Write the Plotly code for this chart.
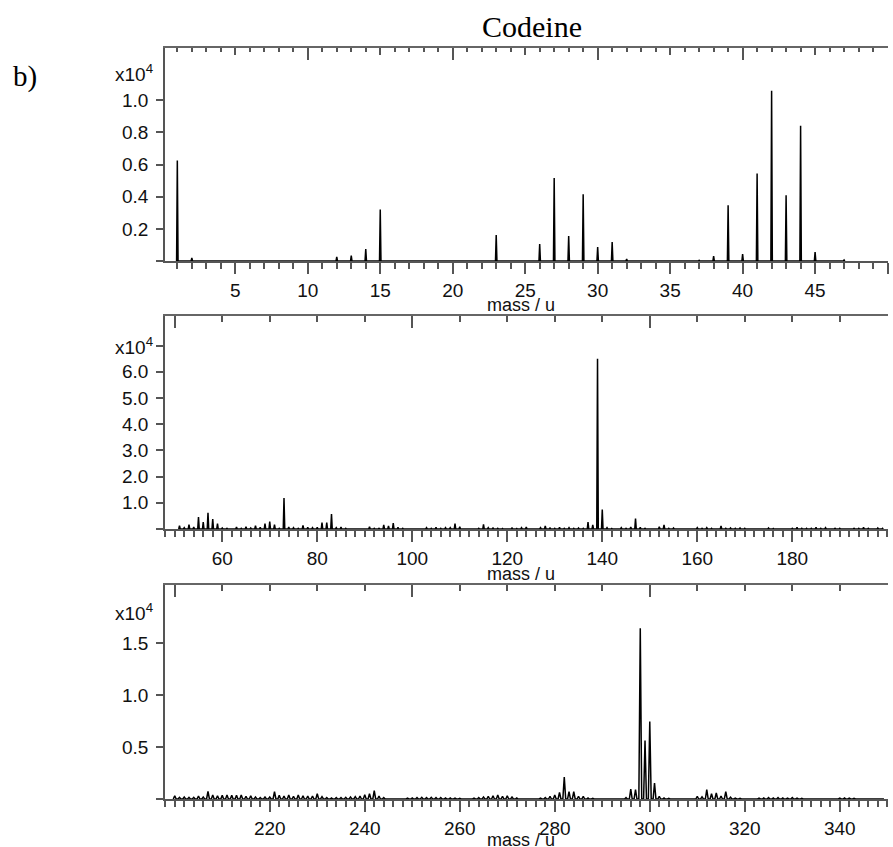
import plotly.graph_objects as go

W, H = 893, 847

# ---- spectrum data (intensity in counts) ----
top_mass = [1, 2, 12, 13, 14, 15, 23, 25, 26, 27, 28, 29, 30, 31, 32,
            37, 38, 39, 40, 41, 42, 43, 44, 45, 47]
top_counts = [6250, 190, 250, 330, 740, 3200, 1610, 30, 1050, 5160, 1550, 4150, 870, 1180, 120,
              40, 310, 3470, 430, 5450, 10590, 4090, 8420, 560, 60]

mid_mass = list(range(51, 200))
mid_counts = [
    1270, 500, 1650, 760, 4580, 2670, 6230, 3820, 2040, 380,      # 51-60
    250, 200, 760, 300, 890, 380, 1270, 640, 2040, 2800,          # 61-70
    1650, 300, 11830, 760, 500, 250, 1400, 640, 500, 640,         # 71-80
    2420, 2420, 5730, 500, 760, 250, 200, 200, 250, 200,          # 81-90
    890, 250, 300, 1530, 1150, 2290, 640, 250, 200, 200,          # 91-100
    200, 250, 500, 250, 640, 250, 500, 500, 2040, 890,            # 101-110
    250, 200, 250, 300, 1780, 500, 380, 300, 200, 250,            # 111-120
    380, 200, 500, 760, 250, 200, 500, 1150, 380, 250,            # 121-130
    640, 250, 500, 250, 380, 250, 2670, 1530, 65000, 7400,        # 131-140
    500, 200, 250, 500, 250, 760, 3940, 640, 300, 250,            # 141-150
    250, 890, 1530, 300, 380, 250, 200, 250, 200, 500,            # 151-160
    250, 500, 250, 250, 1150, 300, 380, 250, 380, 250,            # 161-170
    250, 200, 250, 200, 380, 200, 250, 200, 250, 300,             # 171-180
    640, 300, 250, 300, 640, 300, 500, 250, 300, 250,             # 181-190
    250, 250, 300, 250, 640, 300, 250, 380, 250,                  # 191-199
]

low_mass = list(range(200, 350))
low_counts = [
    320, 160, 190, 160, 160, 290, 190, 740, 380, 320,             # 200-209
    350, 380, 350, 350, 380, 260, 320, 190, 130, 190,             # 210-219
    190, 700, 350, 290, 380, 260, 380, 320, 290, 290,             # 220-229
    510, 230, 130, 100, 130, 130, 160, 190, 220, 290,             # 230-239
    420, 510, 800, 290, 130, 60, 60, 60, 60, 80,                  # 240-249
    100, 130, 160, 130, 160, 130, 130, 100, 100, 80,              # 250-259
    60, 60, 60, 80, 130, 190, 260, 320, 380, 260,                 # 260-269
    320, 190, 100, 60, 60, 60, 60, 80, 130, 260,                  # 270-279
    380, 640, 2120, 700, 700, 260, 260, 100, 60, 60,              # 280-289
    60, 60, 60, 60, 60, 130, 960, 900, 16440, 5640,               # 290-299
    7460, 1540, 260, 100, 60, 60, 60, 60, 60, 60,                 # 300-309
    260, 200, 900, 510, 580, 290, 700, 170, 80, 60,               # 310-319
    60, 60, 60, 80, 100, 130, 100, 130, 100, 80,                  # 320-329
    130, 80, 60, 60, 60, 60, 60, 60, 60, 60,                      # 330-339
    80, 100, 80, 60, 60, 60, 60, 60, 60, 60,                      # 340-349
]

# axis tick labels
top_xticks = list(range(5, 51, 5))
top_xlabels = [str(v) for v in range(5, 50, 5)] + [""]
mid_xticks = list(range(50, 201, 10))
mid_xlabels = [str(v) if v % 20 == 0 and 60 <= v <= 180 else "" for v in mid_xticks]
low_xticks = list(range(200, 351, 10))
low_xlabels = [str(v) if v % 20 == 0 and 220 <= v <= 340 else "" for v in low_xticks]

top_yticks = [0, 2000, 4000, 6000, 8000, 10000]
top_ylabels = ["", "0.2", "0.4", "0.6", "0.8", "1.0"]
mid_yticks = [0, 10000, 20000, 30000, 40000, 50000, 60000, 70000]
mid_ylabels = ["", "1.0", "2.0", "3.0", "4.0", "5.0", "6.0", ""]
low_yticks = [0, 5000, 10000, 15000]
low_ylabels = ["", "0.5", "1.0", "1.5"]


def profile(masses, counts, hw):
    """Turn peak list into a narrow-peaked spectrum polyline."""
    xs, ys = [], []
    for m, c in sorted(zip(masses, counts)):
        xs += [m - hw, m, m + hw]
        ys += [0, c, 0]
    return xs, ys


def px_y(p):
    return 1 - p / H


def px_x(p):
    return p / W


AX = "#555555"
SANS = "Liberation Sans, Arial, sans-serif"
SERIF = "Liberation Serif, Times New Roman, serif"
TICKFONT = dict(family=SANS, size=19, color="#111111")

XD = [px_x(165), px_x(888)]
panels = [
    # x range, y range, y domain in px (bottom, top)
    dict(xr=[0.15, 50.03], yr=[0, 13250], yd=(261, 48)),
    dict(xr=[47.95, 200.15], yr=[0, 81300], yd=(529, 316)),
    dict(xr=[197.95, 350.15], yr=[0, 20600], yd=(799, 585)),
]

fig = go.Figure()

series = [
    profile(top_mass, top_counts, 0.05),
    profile(mid_mass, mid_counts, 0.16),
    profile(low_mass, low_counts, 0.3),
]
for i, (xs, ys) in enumerate(series):
    n = "" if i == 0 else str(i + 1)
    fig.add_trace(go.Scatter(x=xs, y=ys, mode="lines",
                             line=dict(color="black", width=1.5),
                             xaxis="x" + n, yaxis="y" + n,
                             hoverinfo="skip", showlegend=False))

# empty traces so the top-frame axes get drawn
for ax, ya in [("x4", "y"), ("x5", "y2"), ("x6", "y3"), ("x7", "y")]:
    fig.add_trace(go.Scatter(x=[], y=[], xaxis=ax, yaxis=ya, showlegend=False))


def bottom_axis(xr, tv, tt, minor_vals, anchor):
    return dict(domain=XD, range=xr, anchor=anchor, showline=True, linecolor=AX, linewidth=1.6,
                ticks="outside", ticklen=11, tickwidth=1.6, tickcolor=AX,
                tickmode="array", tickvals=tv, ticktext=tt, tickfont=TICKFONT,
                ticklabelstandoff=0,
                minor=dict(tickmode="array", tickvals=minor_vals, ticks="outside",
                           ticklen=6, tickwidth=1.5, tickcolor=AX, showgrid=False),
                showgrid=False, zeroline=False)


def top_axis(xr, base, anchor, dtick, ticklen, minor_dtick=None, minor_len=0, line=True):
    d = dict(domain=XD, range=xr, anchor=anchor, overlaying=base, side="top",
             showline=line, linecolor="#666666", linewidth=1.8, mirror=False,
             ticks="inside", tickmode="linear", tick0=0, dtick=dtick, ticklen=ticklen,
             tickwidth=1.6, tickcolor=AX, showticklabels=False,
             showgrid=False, zeroline=False)
    if minor_dtick:
        d["minor"] = dict(tickmode="linear", tick0=0, dtick=minor_dtick, ticks="inside",
                          ticklen=minor_len, tickwidth=1.5, tickcolor=AX, showgrid=False)
    return d


def left_axis(yr, yd, tv, tt, anchor):
    return dict(domain=[px_y(yd[0]), px_y(yd[1])], range=yr, anchor=anchor,
                showline=True, linecolor=AX, linewidth=1.6,
                ticks="outside", ticklen=7, tickwidth=1.6, tickcolor=AX,
                tickmode="array", tickvals=tv, ticktext=tt, tickfont=TICKFONT,
                ticklabelstandoff=4, showgrid=False, zeroline=False)


p1, p2, p3 = panels
layout = dict(
    width=W, height=H, margin=dict(l=0, r=0, t=0, b=0, pad=0),
    paper_bgcolor="white", plot_bgcolor="white", showlegend=False,
    xaxis=bottom_axis(p1["xr"], top_xticks, top_xlabels, list(range(1, 50)), "y"),
    xaxis2=bottom_axis(p2["xr"], mid_xticks, mid_xlabels, list(range(48, 201, 2)), "y2"),
    xaxis3=bottom_axis(p3["xr"], low_xticks, low_xlabels, list(range(198, 351, 2)), "y3"),
    xaxis4=top_axis(p1["xr"], "x", "y", 10, 12, 1, 4),
    xaxis5=top_axis(p2["xr"], "x2", "y2", 50, 12, 10, 6),
    xaxis6=top_axis(p3["xr"], "x3", "y3", 50, 12, 10, 6),
    xaxis7=top_axis(p1["xr"], "x", "y", 5, 7, line=False),
    yaxis=left_axis(p1["yr"], p1["yd"], top_yticks, top_ylabels, "x"),
    yaxis2=left_axis(p2["yr"], p2["yd"], mid_yticks, mid_ylabels, "x2"),
    yaxis3=left_axis(p3["yr"], p3["yd"], low_yticks, low_ylabels, "x3"),
)
fig.update_layout(**layout)

# scale factor labels and axis titles
scale_pos = [("y", 11700), ("y2", 70000), ("y3", 18000)]
for yref, yv in scale_pos:
    fig.add_annotation(text="x10<sup>4</sup>", x=px_x(155), xref="paper", xanchor="right",
                       y=yv, yref=yref, yanchor="middle", showarrow=False,
                       font=dict(family=SANS, size=19, color="#111111"))

for ypx in (305, 574, 840):
    fig.add_annotation(text="mass / u", x=px_x(521), xref="paper", xanchor="center",
                       y=px_y(ypx), yref="paper", yanchor="middle", showarrow=False,
                       font=dict(family=SANS, size=18, color="#111111"))

fig.add_annotation(text="Codeine", x=px_x(532), xref="paper", xanchor="center",
                   y=px_y(26), yref="paper", yanchor="middle", showarrow=False,
                   font=dict(family=SERIF, size=30, color="black"))
fig.add_annotation(text="b)", x=px_x(25), xref="paper", xanchor="center",
                   y=px_y(76), yref="paper", yanchor="middle", showarrow=False,
                   font=dict(family=SERIF, size=29, color="black"))

fig.write_html("out.html")
